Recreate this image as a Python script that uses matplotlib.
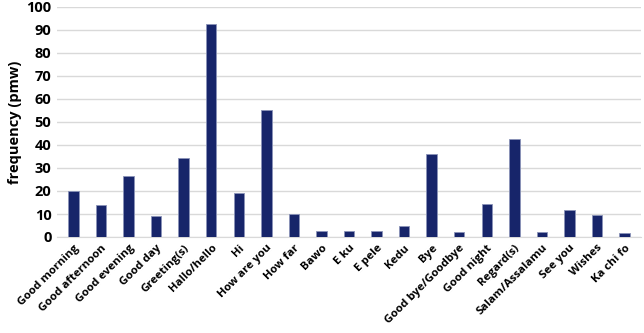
import matplotlib
matplotlib.use("Agg")
import matplotlib.pyplot as plt

categories = ["Good morning", "Good afternoon", "Good evening", "Good day", "Greeting(s)",
              "Hallo/hello", "Hi", "How are you", "How far", "Bawo", "E ku", "E pele", "Kedu",
              "Bye", "Good bye/Goodbye", "Good night", "Regard(s)", "Salam/Assalamu",
              "See you", "Wishes", "Ka chi fo"]
values = [20.1, 14.0, 26.4, 9.0, 34.2, 92.7, 19.1, 55.2, 10.2, 2.7, 2.6, 2.6, 5.0,
          36.0, 2.2, 14.2, 42.6, 2.3, 11.7, 9.4, 1.6]
yticks = list(range(0, 101, 10))

plt.rcParams['font.family'] = ['Open Sans', 'DejaVu Sans']
fig = plt.figure(figsize=(6.44, 3.33), dpi=100)
ax = fig.add_axes([57/644, 1 - 237/333, (641-57)/644, (237-7)/333])
x = range(len(categories))
ax.bar(x, values, width=0.38, color="#17256a", edgecolor="#8a93b8", linewidth=0.6, zorder=3)
ax.set_ylim(0, 100)
ax.set_xlim(-0.6, len(categories) - 0.4)
ax.set_yticks(yticks)
ax.set_yticklabels([str(t) for t in yticks], fontsize=10.5, fontweight="bold")
ax.set_xticks(list(x))
ax.set_xticklabels(categories, rotation=45, ha="right", rotation_mode="anchor",
                   fontsize=8.2, fontweight="bold")
ax.tick_params(axis="both", length=0, pad=4)
ax.grid(axis="y", color="#d9d9d9", linewidth=1, zorder=0)
for s in ["top", "right", "left"]:
    ax.spines[s].set_visible(False)
ax.spines["bottom"].set_color("#d9d9d9")
ax.set_ylabel("frequency (pmw)", fontsize=10.5, fontweight="bold", labelpad=3)
fig.savefig("out.png", dpi=100)
